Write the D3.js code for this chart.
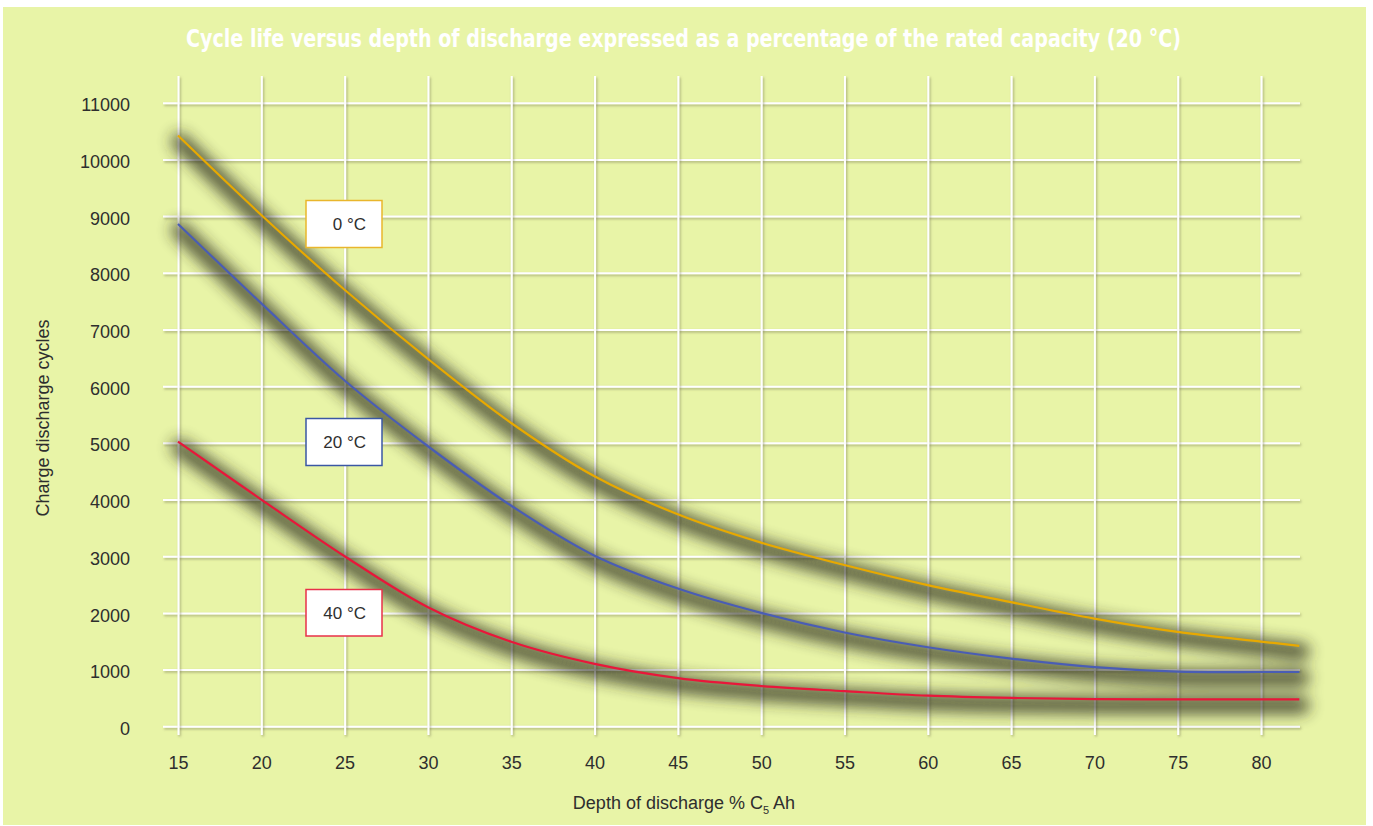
<!DOCTYPE html>
<html>
<head>
<meta charset="utf-8">
<script src="https://cdn.jsdelivr.net/npm/d3@7"></script>
<style>
  html, body { margin: 0; padding: 0; background: #ffffff; }
  svg { display: block; }
</style>
</head>
<body>
<svg id="chart" width="1373" height="826"></svg>
<script>
// ---- data ----
const depth   = [15, 20, 25, 30, 35, 40, 45, 50, 55, 60, 65, 70, 75, 80, 82.3];
const cyc0C   = [10420, 9020, 7700, 6480, 5350, 4410, 3740, 3240, 2845, 2490, 2190, 1900, 1665, 1495, 1420];
const cyc20C  = [8860, 7460, 6100, 4940, 3890, 3010, 2430, 2000, 1655, 1395, 1195, 1045, 965, 958, 958];
const cyc40C  = [5020, 4000, 3000, 2100, 1490, 1100, 850, 710, 620, 540, 500, 480, 476, 476, 476];
const seriesNames = ["0 °C", "20 °C", "40 °C"];
const xTicks = [15, 20, 25, 30, 35, 40, 45, 50, 55, 60, 65, 70, 75, 80];
const yTicks = [0, 1000, 2000, 3000, 4000, 5000, 6000, 7000, 8000, 9000, 10000, 11000];
const titleText = "Cycle life versus depth of discharge expressed as a percentage of the rated capacity (20 °C)";

// ---- layout ----
const svg = d3.select("#chart");
const colors = ["#e8a900", "#4a5db4", "#e8173a"];
const boxBorders = ["#e9b62c", "#3a57a4", "#e8304a"];

const x = d3.scaleLinear().domain([15, 80]).range([178, 1261]);
const y = d3.scaleLinear().domain([0, 11000]).range([726.3, 102.7]);
const gridLeft = 163, gridRight = 1300, gridTop = 76, gridBottom = 735;

const defs = svg.append("defs");
const gs = defs.append("filter").attr("id", "gridShadow")
  .attr("filterUnits", "userSpaceOnUse")
  .attr("x", -2000).attr("y", -2000).attr("width", 5000).attr("height", 5000);
gs.append("feDropShadow").attr("dx", 1.2).attr("dy", 1.5).attr("stdDeviation", 1)
  .attr("flood-color", "#6f6f50").attr("flood-opacity", 0.55);

const cs = defs.append("filter").attr("id", "curveShadow")
  .attr("filterUnits", "userSpaceOnUse")
  .attr("x", -200).attr("y", -200).attr("width", 1800).attr("height", 1200);
cs.append("feGaussianBlur").attr("stdDeviation", 7.5);

// background panel
svg.append("rect").attr("x", 3).attr("y", 7).attr("width", 1363).attr("height", 818)
  .attr("fill", "#e8f4a7");

// title
svg.append("text")
  .attr("x", 683.5).attr("y", 47)
  .attr("text-anchor", "middle")
  .attr("textLength", 995).attr("lengthAdjust", "spacingAndGlyphs")
  .style("font-family", "'Liberation Sans Narrow', 'DejaVu Sans Condensed', 'Liberation Sans', sans-serif")
  .style("font-stretch", "condensed")
  .style("font-weight", "bold").style("font-size", "24px")
  .attr("fill", "#ffffff")
  .text(titleText);

// grid via axes
const tickFont = "'Liberation Sans', Arial, sans-serif";
const yAxis = d3.axisLeft(y).tickValues(yTicks).tickFormat(d3.format("d"))
  .tickSizeInner(-(gridRight - gridLeft)).tickSizeOuter(0).tickPadding(33);
const gy = svg.append("g").attr("transform", `translate(${gridLeft},0)`).call(yAxis);
gy.select(".domain").remove();
gy.selectAll(".tick line").attr("stroke", "#ffffff").attr("stroke-width", 2).attr("filter", "url(#gridShadow)");
gy.selectAll(".tick text").attr("fill", "#2e2e2e").attr("dy", "0.45em")
  .style("font-family", tickFont).style("font-size", "18px");

const xAxis = d3.axisBottom(x).tickValues(xTicks).tickSizeInner(-(gridBottom - gridTop)).tickSizeOuter(0).tickPadding(0);
const gx = svg.append("g").attr("transform", `translate(0,${gridBottom})`).call(xAxis);
gx.select(".domain").remove();
gx.selectAll(".tick line").attr("stroke", "#ffffff").attr("stroke-width", 2).attr("filter", "url(#gridShadow)");
gx.selectAll(".tick text").attr("fill", "#2e2e2e").attr("y", 28).attr("dy", "0.35em")
  .style("font-family", tickFont).style("font-size", "18px");

// axis titles
svg.append("text")
  .attr("transform", "translate(49,418) rotate(-90)")
  .attr("text-anchor", "middle")
  .style("font-family", tickFont).style("font-size", "18px")
  .attr("fill", "#2e2e2e")
  .text("Charge discharge cycles");

const xt = svg.append("text")
  .attr("x", 684).attr("y", 809)
  .attr("text-anchor", "middle")
  .style("font-family", tickFont).style("font-size", "18px")
  .attr("fill", "#2e2e2e");
xt.append("tspan").text("Depth of discharge % C");
xt.append("tspan").attr("dy", 5).style("font-size", "11px").text("5");
xt.append("tspan").attr("dy", -5).text(" Ah");

// curves
const allSeries = [cyc0C, cyc20C, cyc40C];
const line = d3.line().x(d => x(d[0])).y(d => y(d[1])).curve(d3.curveCatmullRom.alpha(0.5));
const shadowG = svg.append("g").attr("filter", "url(#curveShadow)").attr("opacity", 0.78);
allSeries.forEach(vals => {
  const pts = depth.map((d, i) => [d, vals[i]]);
  shadowG.append("path").attr("d", line(pts)).attr("transform", "translate(2,6)")
    .attr("fill", "none").attr("stroke", "#2c2c1e").attr("stroke-width", 17)
    .attr("stroke-linecap", "round");
});
allSeries.forEach((vals, k) => {
  const pts = depth.map((d, i) => [d, vals[i]]);
  svg.append("path").attr("d", line(pts))
    .attr("fill", "none").attr("stroke", colors[k]).attr("stroke-width", 2.2);
});

// labels
const labelBoxes = [
  { x: 306, y: 200.5, w: 76, h: 47 },
  { x: 306, y: 418.5, w: 76, h: 47 },
  { x: 306, y: 589.5, w: 76, h: 46.5 }
];
labelBoxes.forEach((b, k) => {
  svg.append("rect").attr("x", b.x).attr("y", b.y).attr("width", b.w).attr("height", b.h)
    .attr("fill", "#ffffff").attr("stroke", boxBorders[k]).attr("stroke-width", 1.5);
  svg.append("text").attr("x", b.x + 60).attr("y", b.y + b.h / 2 + 6)
    .attr("text-anchor", "end")
    .style("font-family", tickFont).style("font-size", "17px")
    .attr("fill", "#2e2e2e")
    .text(seriesNames[k]);
});
</script>
</body>
</html>
